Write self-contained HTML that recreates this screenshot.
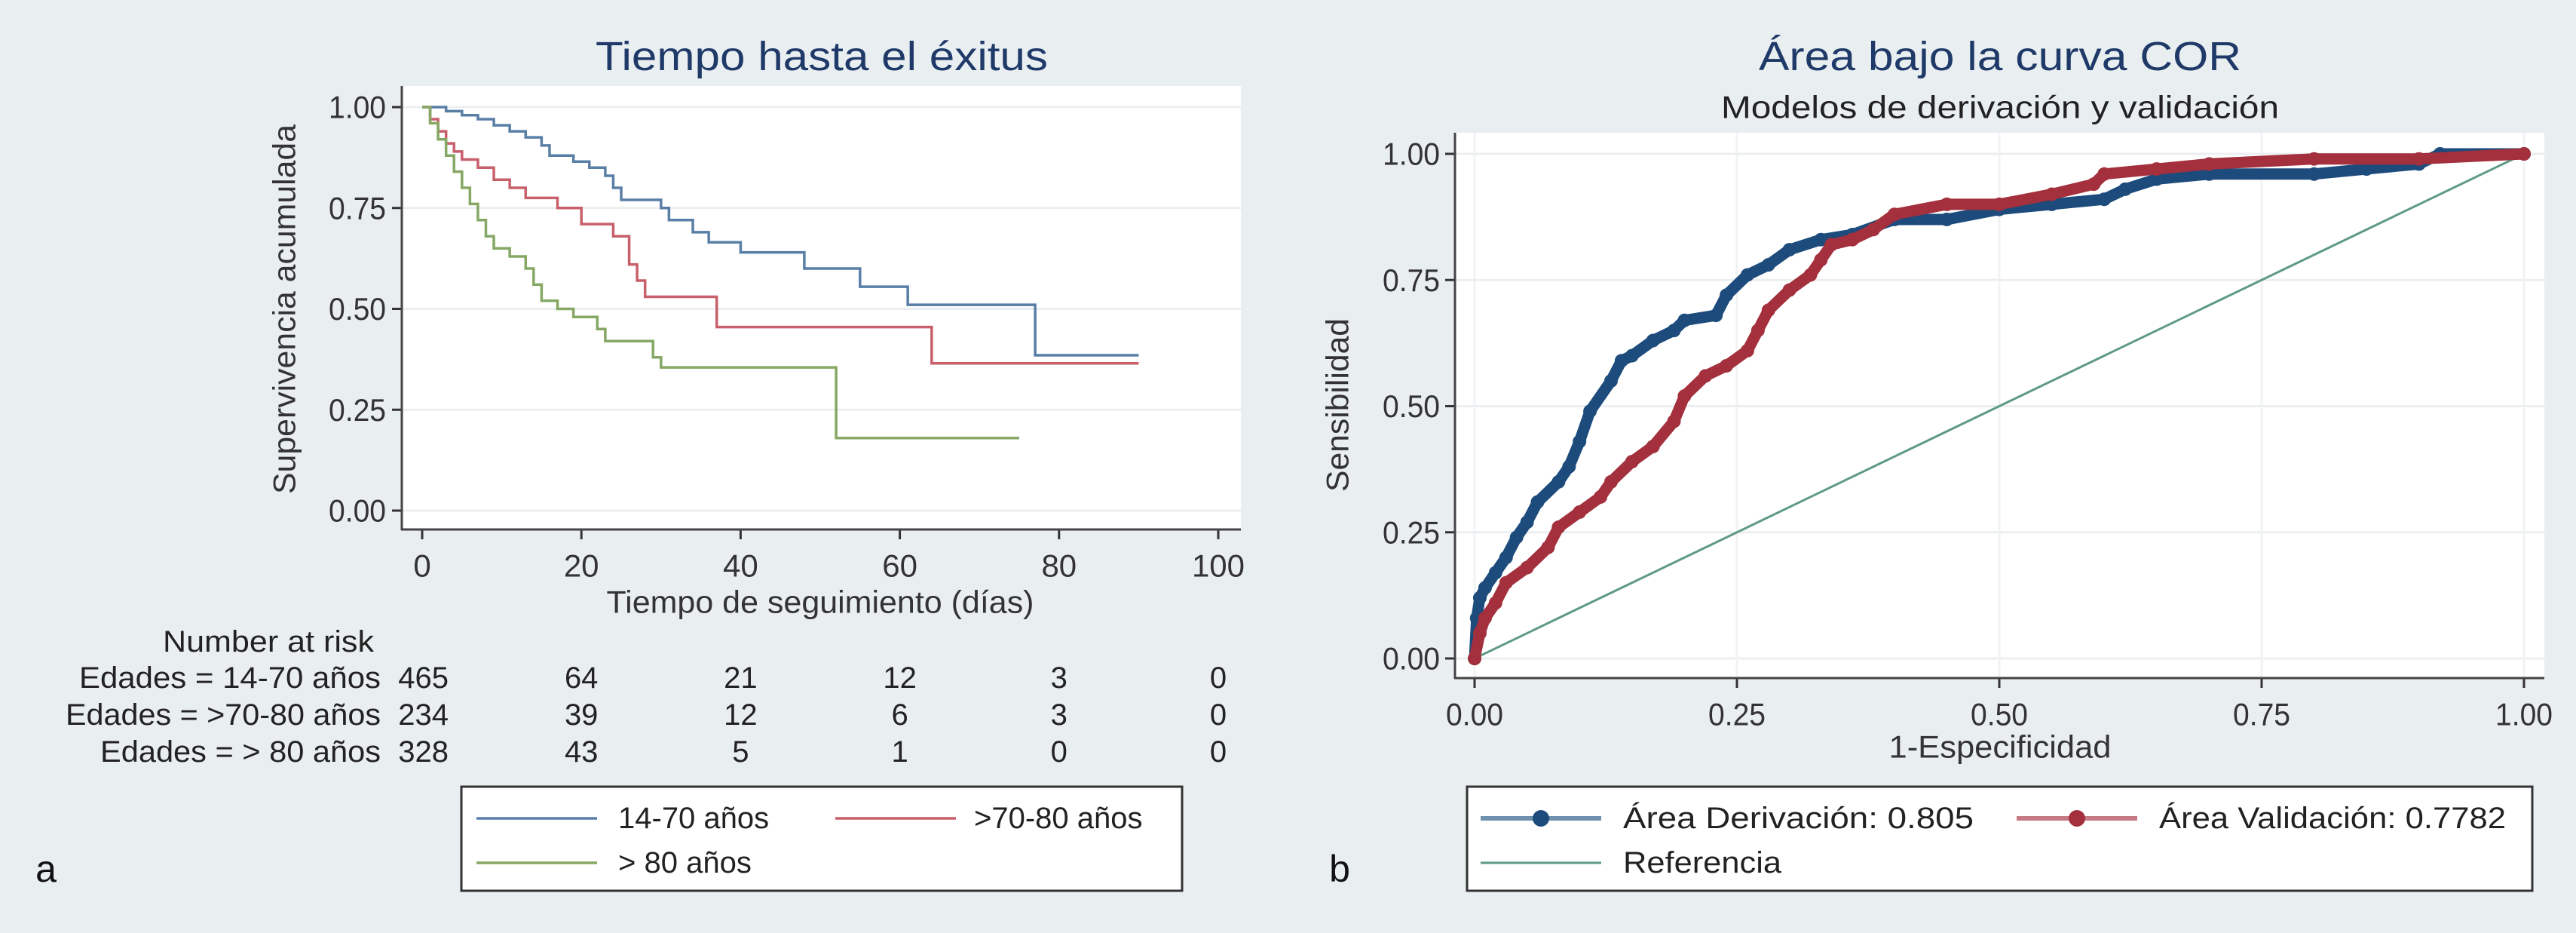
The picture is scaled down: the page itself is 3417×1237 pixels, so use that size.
<!DOCTYPE html>
<html><head><meta charset="utf-8">
<style>
html,body{margin:0;padding:0;background:#e9eef1;}
svg{display:block;font-family:"Liberation Sans",sans-serif;}
</style></head>
<body>
<svg id="fig" width="3417" height="1237" viewBox="0 0 3417 1237">
<rect x="0" y="0" width="3417" height="1237" fill="#e9eef1"/>
</svg>
<script>
// ===== Panel a data: Kaplan-Meier =====
const kmDaysBlue = [0,3,5,7,9,11,13,15,16,19,21,23,24,25,30,31,34,36,40,48,55,61,77,90];
const kmSurvBlue = [1,0.99,0.98,0.97,0.955,0.94,0.925,0.905,0.88,0.865,0.85,0.83,0.80,0.77,0.75,0.72,0.69,0.665,0.64,0.60,0.555,0.51,0.385,0.385];
const kmDaysRed = [0,1,2,3,4,5,7,9,11,13,17,20,24,26,27,28,37,64,90];
const kmSurvRed = [1,0.97,0.94,0.91,0.89,0.87,0.85,0.82,0.80,0.775,0.75,0.71,0.68,0.61,0.57,0.53,0.455,0.365,0.365];
const kmDaysGreen = [0,1,2,3,4,5,6,7,8,9,11,13,14,15,17,19,22,23,29,30,52,75];
const kmSurvGreen = [1,0.96,0.92,0.88,0.84,0.80,0.76,0.72,0.68,0.65,0.63,0.60,0.56,0.52,0.50,0.48,0.45,0.42,0.38,0.355,0.18,0.18];
const kmXTicks = [0,20,40,60,80,100];
const kmYTicks = [0,0.25,0.5,0.75,1];
const kmYTickLabels = ["0.00","0.25","0.50","0.75","1.00"];
const riskGroups = ["Edades = 14-70 años","Edades = >70-80 años","Edades = > 80 años"];
const riskBlue = [465,64,21,12,3,0];
const riskRed = [234,39,12,6,3,0];
const riskGreen = [328,43,5,1,0,0];
// ===== Panel b data: ROC =====
const rocFprDer = [0,0.002,0.005,0.01,0.02,0.03,0.04,0.05,0.06,0.08,0.09,0.1,0.11,0.13,0.14,0.15,0.17,0.19,0.2,0.23,0.24,0.26,0.28,0.3,0.33,0.36,0.4,0.45,0.5,0.55,0.6,0.62,0.65,0.7,0.8,0.85,0.9,0.92,1];
const rocTprDer = [0,0.08,0.12,0.14,0.17,0.2,0.24,0.27,0.31,0.35,0.38,0.43,0.49,0.55,0.59,0.6,0.63,0.65,0.67,0.68,0.72,0.76,0.78,0.81,0.83,0.84,0.87,0.87,0.89,0.9,0.91,0.93,0.95,0.96,0.96,0.97,0.98,1.0,1];
const rocFprVal = [0,0.005,0.01,0.02,0.03,0.05,0.07,0.08,0.1,0.12,0.13,0.15,0.17,0.19,0.2,0.22,0.24,0.26,0.27,0.28,0.3,0.32,0.33,0.34,0.36,0.38,0.4,0.45,0.5,0.55,0.59,0.6,0.65,0.7,0.8,0.9,1];
const rocTprVal = [0,0.05,0.08,0.11,0.15,0.18,0.22,0.26,0.29,0.32,0.35,0.39,0.42,0.47,0.52,0.56,0.58,0.61,0.65,0.69,0.73,0.76,0.79,0.82,0.83,0.85,0.88,0.9,0.9,0.92,0.94,0.96,0.97,0.98,0.99,0.99,1];
const rocTicks = [0,0.25,0.5,0.75,1];
const rocTickLabels = ["0.00","0.25","0.50","0.75","1.00"];

const NS="http://www.w3.org/2000/svg";
const svg=document.getElementById('fig');
function mk(tag,attrs,parent){const e=document.createElementNS(NS,tag);for(const k in attrs)e.setAttribute(k,attrs[k]);(parent||svg).appendChild(e);return e;}
function txt(s,x,y,size,anchor,fill,extra){const t=mk('text',Object.assign({x:x,y:y,'font-size':size,'text-anchor':anchor||'middle',fill:fill||'#222','dominant-baseline':'central'},extra||{}));t.textContent=s;return t;}

// ---------- Panel a ----------
const ax=d=>560+(d/100)*(1616-560);
const ay=v=>677-v*(677-142);
let r=mk('rect',{x:533,y:114,width:1113,height:588,fill:'#ffffff'});


kmYTicks.forEach((v,i)=>{
  let g=mk('line',{x1:533,x2:1646,y1:ay(v),y2:ay(v),stroke:'#eceff1','stroke-width':3});
  
  
  mk('line',{x1:520,x2:533,y1:ay(v),y2:ay(v),stroke:'#333','stroke-width':3});
  let t=txt(kmYTickLabels[i],512,ay(v),42,'end','#333',{textLength:76,lengthAdjust:'spacingAndGlyphs'});
  
  
});
kmXTicks.forEach(v=>{
  mk('line',{x1:ax(v),x2:ax(v),y1:702,y2:715,stroke:'#333','stroke-width':3});
  let t=txt(String(v),ax(v),750,42,'middle','#333');
  
  
});
mk('line',{x1:533,x2:533,y1:114,y2:703,stroke:'#444','stroke-width':3});
mk('line',{x1:532,x2:1646,y1:702,y2:702,stroke:'#444','stroke-width':3});
function step(days,surv,color,name){
  let d='M'+ax(days[0])+','+ay(surv[0]);
  for(let i=1;i<days.length;i++){d+=' H'+ax(days[i])+' V'+ay(surv[i]);}
  const p=mk('path',{d:d,fill:'none',stroke:color,'stroke-width':3.5});
  
  
}
step(kmDaysBlue,kmSurvBlue,'#5a7fa6','km-curve-14-70');
step(kmDaysRed,kmSurvRed,'#c8606c','km-curve-70-80');
step(kmDaysGreen,kmSurvGreen,'#86a864','km-curve-over-80');
let t;
t=txt('Tiempo hasta el éxitus',1090,75,54,'middle','#1f3a68',{textLength:600,lengthAdjust:'spacingAndGlyphs'});

t=txt('Supervivencia acumulada',0,0,42,'middle','#333',{transform:'translate(377,410) rotate(-90)',textLength:490,lengthAdjust:'spacingAndGlyphs'});

t=txt('Tiempo de seguimiento (días)',1088,798,42,'middle','#333',{textLength:567,lengthAdjust:'spacingAndGlyphs'});

t=txt('Number at risk',356,851,40,'middle','#222',{textLength:280,lengthAdjust:'spacingAndGlyphs'});

const riskRows=[riskBlue,riskRed,riskGreen];
const rowY=[899,948,997];
const labW=[400,418,372];
riskGroups.forEach((g,i)=>{
  let l=txt(g,505,rowY[i],40,'end','#222',{textLength:labW[i],lengthAdjust:'spacingAndGlyphs'});
  
  riskRows[i].forEach((n,j)=>{
    let c=j===0?txt(String(n),595,rowY[i],40,'end','#222'):txt(String(n),ax(kmXTicks[j]),rowY[i],40,'middle','#222');
    
  });
});
r=mk('rect',{x:612,y:1043,width:956,height:138,fill:'#fff',stroke:'#333','stroke-width':3});

[[632,1085,'#5a7fa6','14-70 años',820,'legend-entry-14-70'],[1108,1085,'#c8606c','>70-80 años',1292,'legend-entry-70-80'],[632,1144,'#86a864','> 80 años',820,'legend-entry-over-80']].forEach(e=>{
  mk('line',{x1:e[0],x2:e[0]+160,y1:e[1],y2:e[1],stroke:e[2],'stroke-width':3.5});
  let l=txt(e[3],e[4],e[1],40,'start','#222');
  
});
t=txt('a',61,1152,50,'middle','#111');


// ---------- Panel b ----------
const bx=v=>1956+v*(3348-1956);
const by=v=>873-v*(873-204);
r=mk('rect',{x:1930,y:176,width:1445,height:723,fill:'#ffffff'});

rocTicks.forEach((v,i)=>{
  let g=mk('line',{x1:1930,x2:3375,y1:by(v),y2:by(v),stroke:'#eceff1','stroke-width':3});
  
  mk('line',{x1:bx(v),x2:bx(v),y1:176,y2:899,stroke:'#f1f3f4','stroke-width':3});
  mk('line',{x1:1917,x2:1930,y1:by(v),y2:by(v),stroke:'#333','stroke-width':3});
  let a=txt(rocTickLabels[i],1910,by(v),42,'end','#333',{textLength:76,lengthAdjust:'spacingAndGlyphs'});
  
  mk('line',{x1:bx(v),x2:bx(v),y1:899,y2:912,stroke:'#333','stroke-width':3});
  let b=txt(rocTickLabels[i],bx(v),947,42,'middle','#333',{textLength:76,lengthAdjust:'spacingAndGlyphs'});
  
});
mk('line',{x1:1930,x2:1930,y1:176,y2:900,stroke:'#444','stroke-width':3});
mk('line',{x1:1929,x2:3375,y1:899,y2:899,stroke:'#444','stroke-width':3});
let ref=mk('line',{x1:bx(0),y1:by(0),x2:bx(1),y2:by(1),stroke:'#5f9a86','stroke-width':3});

function roc(fx,ty,color,name){
  const pts=fx.map((f,i)=>bx(f)+','+by(ty[i])).join(' ');
  const p=mk('polyline',{points:pts,fill:'none',stroke:color,'stroke-width':15,'stroke-linejoin':'round','stroke-linecap':'round'});
  
  fx.forEach((f,i)=>{
    const c=mk('circle',{cx:bx(f),cy:by(ty[i]),r:9,fill:color});
    
  });
}
roc(rocFprDer,rocTprDer,'#1d4b7c','roc-curve-derivacion');
roc(rocFprVal,rocTprVal,'#a3303c','roc-curve-validacion');
t=txt('Área bajo la curva COR',2653,75,54,'middle','#1f3a68',{textLength:640,lengthAdjust:'spacingAndGlyphs'});

t=txt('Modelos de derivación y validación',2653,142,42,'middle','#222',{textLength:740,lengthAdjust:'spacingAndGlyphs'});

t=txt('Sensibilidad',0,0,42,'middle','#333',{transform:'translate(1774,537) rotate(-90)',textLength:230,lengthAdjust:'spacingAndGlyphs'});

t=txt('1-Especificidad',2653,990,42,'middle','#333',{textLength:295,lengthAdjust:'spacingAndGlyphs'});

r=mk('rect',{x:1946,y:1043,width:1413,height:138,fill:'#fff',stroke:'#333','stroke-width':3});

[[1964,1085,'#1d4b7c','#6e8fae','Área Derivación: 0.805',2153,'legend-entry-derivacion',true,465],[2675,1085,'#a3303c','#c57b83','Área Validación: 0.7782',2864,'legend-entry-validacion',true,460],[1964,1144,'#5f9a86','#5f9a86','Referencia',2153,'legend-entry-referencia',false,210]].forEach(e=>{
  mk('line',{x1:e[0],x2:e[0]+160,y1:e[1],y2:e[1],stroke:e[3],'stroke-width':e[7]?6:3});
  if(e[7])mk('circle',{cx:e[0]+80,cy:e[1],r:11,fill:e[2]});
  let l=txt(e[4],e[5],e[1],40,'start','#222',{textLength:e[8],lengthAdjust:'spacingAndGlyphs'});
  
});
t=txt('b',1777,1152,50,'middle','#111');

</script>
</body></html>
